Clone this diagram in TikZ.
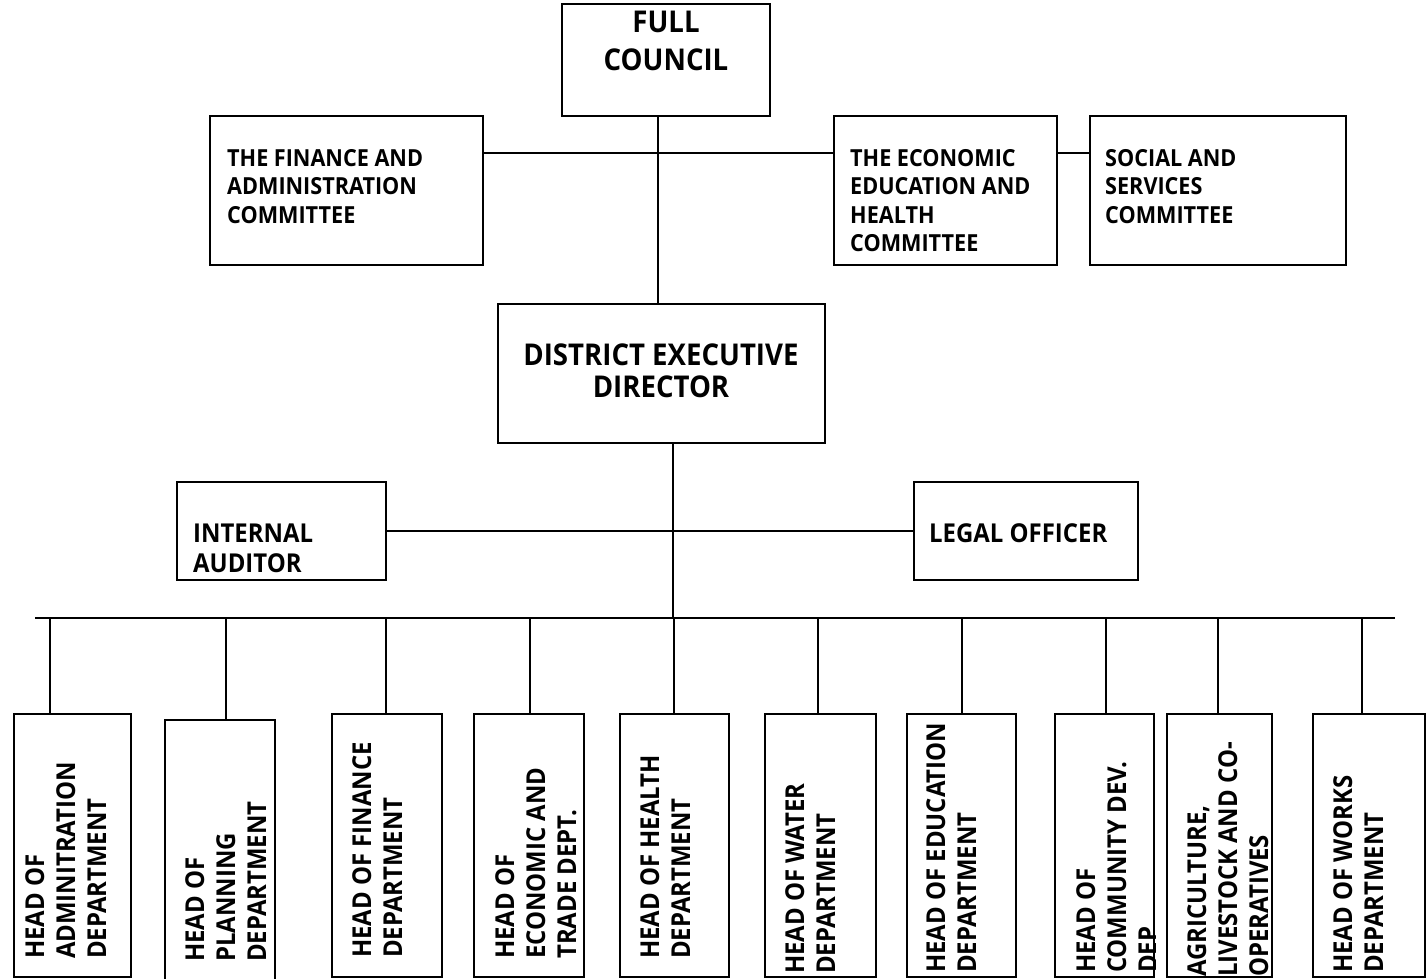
\documentclass[tikz,border=0pt]{standalone}
\usepackage{fontspec}
\setmainfont{Open Sans}[FakeStretch=0.92]
\begin{document}
\begin{tikzpicture}[x=1pt,y=-1pt,
  box/.style={draw=black, line width=2pt, inner sep=0pt, fill=none},
  conn/.style={draw=black, line width=1.6pt},
  txt/.style={inner sep=0pt, font=\bfseries\fontsize{23.5}{28.5}\selectfont, align=left, anchor=north west},
  bigtxt/.style={inner sep=0pt, font=\bfseries\fontsize{30}{38}\selectfont, align=center, anchor=north},
  midtxt/.style={inner sep=0pt, font=\bfseries\fontsize{26}{30}\selectfont, align=left, anchor=north west},
  vtxt/.style={inner sep=0pt, font=\bfseries\fontsize{26}{31}\selectfont, align=left, anchor=north west, rotate=90}
]
\useasboundingbox (0,0) rectangle (1426,979);
\fill[white] (0,0) rectangle (1426,979);

% top level boxes
\node[box, minimum width=208pt, minimum height=112pt] (fc) at (666,60) {};
\node[box, minimum width=273pt, minimum height=149pt] (fin) at (346.5,190.5) {};
\node[box, minimum width=223pt, minimum height=149pt] (eco) at (945.5,190.5) {};
\node[box, minimum width=256pt, minimum height=149pt] (soc) at (1218,190.5) {};
\node[box, minimum width=327pt, minimum height=139pt] (ded) at (661.5,373.5) {};
\node[box, minimum width=209pt, minimum height=98pt] (ia) at (281.5,531) {};
\node[box, minimum width=224pt, minimum height=98pt] (lo) at (1026,531) {};

% texts
\node[bigtxt] (fct) at (666,11) {FULL\\COUNCIL};
\node[txt] (fint) at (227,149) {THE FINANCE AND\\ADMINISTRATION\\COMMITTEE};
\node[txt] (ecot) at (850,149) {THE ECONOMIC\\EDUCATION AND\\HEALTH\\COMMITTEE};
\node[txt] (soct) at (1105,149) {SOCIAL AND\\SERVICES\\COMMITTEE};
\node[bigtxt, font=\bfseries\fontsize{30}{32}\selectfont] (dedt) at (661,344) {DISTRICT EXECUTIVE\\DIRECTOR};
\node[midtxt] (iat) at (193,524) {INTERNAL\\AUDITOR};
\node[midtxt] (lot) at (929,523) {LEGAL OFFICER};

% bottom boxes
\node[box, minimum width=117pt, minimum height=263pt] (b1) at (72.5,845.5) {};
\node[box, minimum width=110pt, minimum height=270pt] (b2) at (220,855) {};
\node[box, minimum width=110pt, minimum height=263pt] (b3) at (387,845.5) {};
\node[box, minimum width=110pt, minimum height=263pt] (b4) at (529,845.5) {};
\node[box, minimum width=109pt, minimum height=263pt] (b5) at (674.5,845.5) {};
\node[box, minimum width=111pt, minimum height=263pt] (b6) at (820.5,845.5) {};
\node[box, minimum width=109pt, minimum height=263pt] (b7) at (961.5,845.5) {};
\node[box, minimum width=99pt, minimum height=263pt] (b8) at (1104.5,845.5) {};
\node[box, minimum width=105pt, minimum height=263pt] (b9) at (1219.5,845.5) {};
\node[box, minimum width=112pt, minimum height=263pt] (b10) at (1369,845.5) {};

\begin{scope}\clip (b1.south west) rectangle (b1.north east);
\node[vtxt] (t1) at (25,959) {HEAD OF\\ADMINITRATION\\DEPARTMENT};\end{scope}
\begin{scope}\clip (b2.south west) rectangle (b2.north east);
\node[vtxt] (t2) at (185,962) {HEAD OF\\PLANNING\\DEPARTMENT};\end{scope}
\begin{scope}\clip (b3.south west) rectangle (b3.north east);
\node[vtxt] (t3) at (352,958) {HEAD OF FINANCE\\DEPARTMENT};\end{scope}
\begin{scope}\clip (b4.south west) rectangle (b4.north east);
\node[vtxt] (t4) at (495,959) {HEAD OF\\ECONOMIC AND\\TRADE DEPT.};\end{scope}
\begin{scope}\clip (b5.south west) rectangle (b5.north east);
\node[vtxt] (t5) at (640,959) {HEAD OF HEALTH\\DEPARTMENT};\end{scope}
\begin{scope}\clip (b6.south west) rectangle (b6.north east);
\node[vtxt] (t6) at (785,974) {HEAD OF WATER\\DEPARTMENT};\end{scope}
\begin{scope}\clip (b7.south west) rectangle (b7.north east);
\node[vtxt] (t7) at (926,973) {HEAD OF EDUCATION\\DEPARTMENT};\end{scope}
\begin{scope}\clip (b8.south west) rectangle (b8.north east);
\node[vtxt] (t8) at (1076,973) {HEAD OF\\COMMUNITY DEV.\\DEP};\end{scope}
\begin{scope}\clip (b9.south west) rectangle (b9.north east);
\node[vtxt] (t9) at (1187,977) {AGRICULTURE,\\LIVESTOCK AND CO-\\OPERATIVES};\end{scope}
\begin{scope}\clip (b10.south west) rectangle (b10.north east);
\node[vtxt] (t10) at (1333,973) {HEAD OF WORKS\\DEPARTMENT};\end{scope}

% connectors
\coordinate (j1) at (658,153);
\coordinate (j2) at (673,531);
\coordinate (busL) at (35,618);
\coordinate (busR) at (1395,618);
\coordinate (busC) at (673,618);
\draw[conn] (fc.south -| j1) -- (ded.north -| j1);
\draw[conn] (fin.east |- j1) -- (eco.west |- j1);
\draw[conn] (eco.east |- j1) -- (soc.west |- j1);
\draw[conn] (ded.south -| j2) -- (busC);
\draw[conn] (ia.east) -- (lo.west);
\draw[conn] (busL) -- (busR);
\foreach \n/\xx in {b1/50,b2/226,b3/386,b4/530,b5/674,b6/818,b7/962,b8/1106,b9/1218,b10/1362}{
  \draw[conn] (\xx,618) -- (\n.north -| {(\xx,0)});
}
\end{tikzpicture}
\end{document}
